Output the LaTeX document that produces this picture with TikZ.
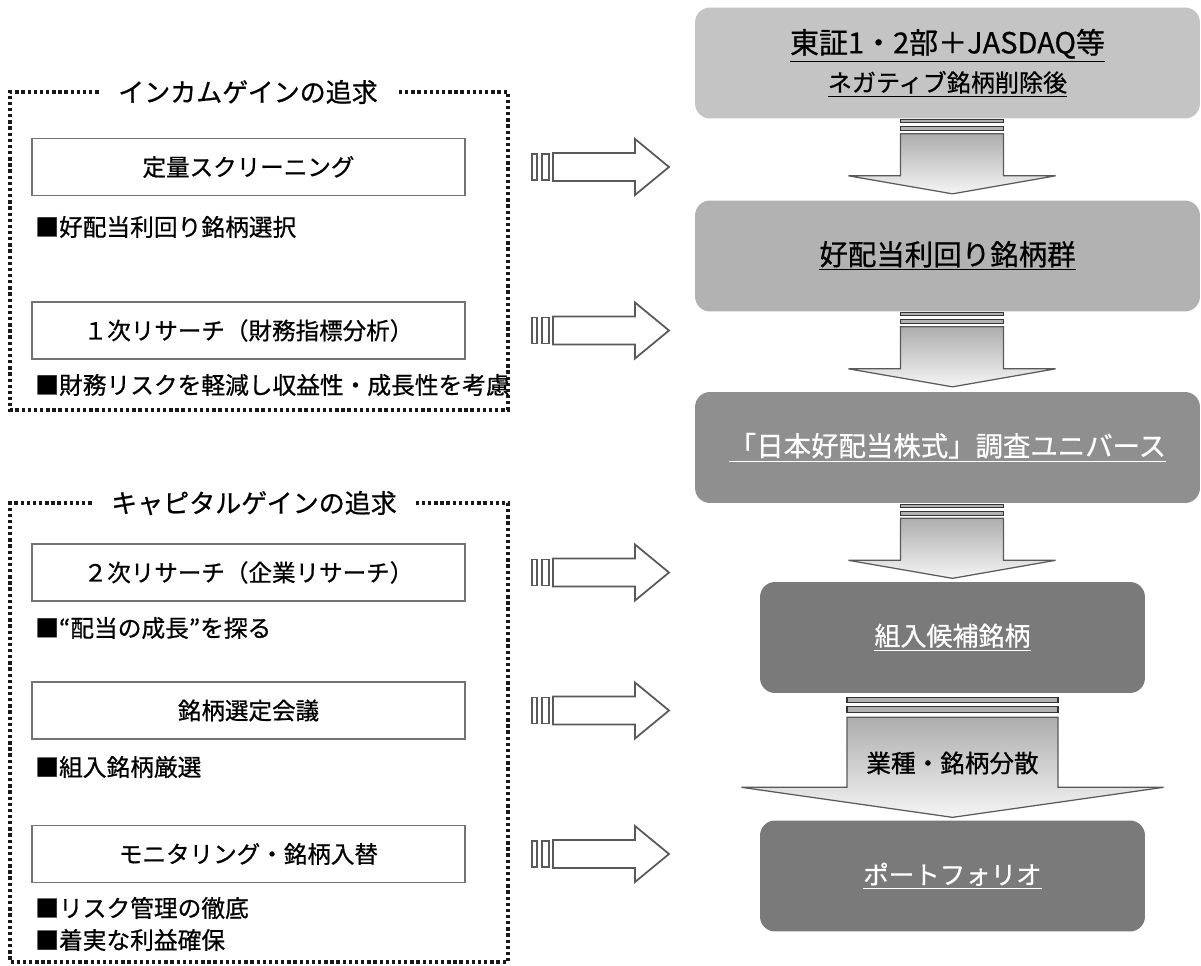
\documentclass[tikz,border=0pt]{standalone}
\usepackage{fontspec}
\setmainfont{Noto Sans CJK JP}[FakeBold=0.7]

\definecolor{stageA}{gray}{0.77}
\definecolor{stageB}{gray}{0.70}
\definecolor{stageC}{gray}{0.56}
\definecolor{stageD}{gray}{0.48}
\definecolor{edgegray}{gray}{0.35}

\tikzset{
  dotbox/.style={line width=1.9pt, dash pattern=on 1.9pt off 1.6pt, black!90},
  grouptitle/.style={font=\fontsize{14.8}{17}\selectfont, inner xsep=11pt},
  stepbox/.style={draw=black!55, line width=0.8pt, fill=white,
    minimum width=8.66cm, minimum height=1.14cm, font=\fontsize{13.4}{16}\selectfont},
  note/.style={anchor=west, inner sep=0pt, font=\fontsize{13.5}{16}\selectfont},
  stage/.style={rounded corners=0.3cm, minimum height=2.22cm, align=center},
  feed/.style={draw=edgegray, line width=1pt, fill=white, line join=miter},
  flow/.style={draw=edgegray, line width=0.7pt, top color=black!32, bottom color=black!4},
  flowbar/.style={draw=black!80, line width=0.7pt, fill=black!30},
}

\begin{document}
\begin{tikzpicture}[x=0.02cm, y=-0.02cm]
\useasboundingbox (0,0) rectangle (1201,966);
\fill[white] (0,0) rectangle (1201,966);

% income gain group
\node[grouptitle] (t1) at (248,92) {インカムゲインの追求};
\draw[dotbox] (t1.west) -- (10,92) -- (10,410) -- (508,410) -- (508,92) -- (t1.east);
\node[stepbox] (s1) at (248.5,167) {定量スクリーニング};
\node[note] (n1) at (35,227) {■好配当利回り銘柄選択};
\node[stepbox] (s2) at (248.5,330.5) {１次リサーチ（財務指標分析）};
\node[note] (n2) at (35,385) {■財務リスクを軽減し収益性・成長性を考慮};

% capital gain group
\node[grouptitle] (t2) at (254,503) {キャピタルゲインの追求};
\draw[dotbox] (t2.west) -- (10,503) -- (10,962) -- (508,962) -- (508,503) -- (t2.east);
\node[stepbox] (s3) at (248.5,572.5) {２次リサーチ（企業リサーチ）};
\node[note] (n3) at (35,628) {■“配当の成長”を探る};
\node[stepbox] (s4) at (248.5,710.5) {銘柄選定会議};
\node[note] (n4) at (35,767) {■組入銘柄厳選};
\node[stepbox] (s5) at (248.5,854) {モニタリング・銘柄入替};
\node[note] (n5) at (35,908) {■リスク管理の徹底};
\node[note] (n6) at (35,940) {■着実な利益確保};

% hollow arrows into the right column
\foreach \s in {s1,s2,s3,s4,s5}{
  \begin{scope}[shift={(\s.center)}]
    \draw[feed] (283.5,-13) rectangle (288.5,13);
    \draw[feed] (293.5,-13) rectangle (300.5,13);
    \draw[feed] (304.5,-14) -- (386.5,-14) -- (386.5,-28) -- (420.5,0)
      -- (386.5,28) -- (386.5,14) -- (304.5,14) -- cycle;
  \end{scope}
}

% right column
\node[stage, fill=stageA, minimum width=10.1cm] (ba) at (947.5,63)
  {\fontsize{16.5}{19}\selectfont\underline{東証1・2部＋JASDAQ等}\\[4pt]
   \fontsize{13.7}{16}\selectfont\underline{ネガティブ銘柄削除後}};
\node[stage, fill=stageB, minimum width=10.1cm, font=\fontsize{16.2}{19}\selectfont] (bb) at (947.5,256)
  {\underline{好配当利回り銘柄群}};
\node[stage, fill=stageC, minimum width=10.1cm, text=white, font=\fontsize{15.6}{19}\selectfont] (bc) at (947.5,447.5)
  {\underline{「日本好配当株式」調査ユニバース}};
\node[stage, fill=stageD, minimum width=7.7cm, text=white, font=\fontsize{14.8}{18}\selectfont] (bd) at (952.5,637.5)
  {\underline{組入候補銘柄}};
\node[stage, fill=stageD, minimum width=7.7cm, text=white, font=\fontsize{14.5}{18}\selectfont] (be) at (952.5,876)
  {\underline{ポートフォリオ}};

% block arrows between stages
\foreach \a in {ba,bb,bc}{
  \begin{scope}[shift={(\a.south -| bd.center)}]
    \draw[flowbar] (-52,1) rectangle (51,4);
    \draw[flowbar] (-52,8) rectangle (51,12);
    \draw[flow] (-52,15) -- (51,15) -- (51,57) -- (103,57) -- (0,75)
      -- (-104,57) -- (-52,57) -- cycle;
  \end{scope}
}
\begin{scope}[shift={(bd.south)}]
  \draw[flowbar] (-105.5,4) rectangle (105.5,9);
  \draw[flowbar] (-105.5,13) rectangle (105.5,19);
  \draw[flow] (-105.5,24) -- (105.5,24) -- (105.5,94) -- (211,94) -- (0,124)
    -- (-211,94) -- (-105.5,94) -- cycle;
\end{scope}
\node[font=\fontsize{14}{17}\selectfont] (spread) at (952.5,763) {業種・銘柄分散};
\end{tikzpicture}
\end{document}
